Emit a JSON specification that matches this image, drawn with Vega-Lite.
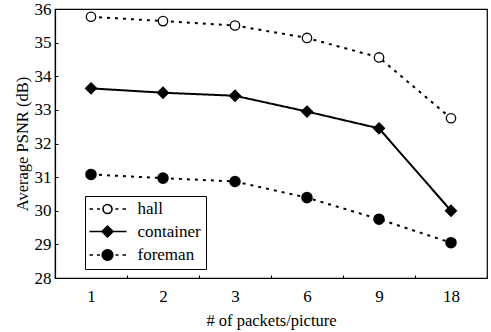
{
  "$schema": "https://vega.github.io/schema/vega-lite/v6.json",
  "autosize": "none",
  "width": 432,
  "height": 269,
  "padding": {"left": 55, "top": 9, "right": 4, "bottom": 54},
  "background": "white",
  "config": {
    "font": "Liberation Serif",
    "view": {"stroke": "black", "strokeWidth": 1.2},
    "axis": {
      "labelFont": "Liberation Serif",
      "titleFont": "Liberation Serif",
      "labelFontSize": 17,
      "titleFontSize": 16.5,
      "titleFontWeight": "normal",
      "labelColor": "black",
      "titleColor": "black",
      "domainColor": "black",
      "tickColor": "black",
      "grid": false
    },
    "legend": {
      "orient": "none",
      "legendX": 30,
      "legendY": 187,
      "strokeColor": "black",
      "fillColor": "white",
      "padding": 4.5,
      "symbolSize": 225,
      "symbolStrokeWidth": 1.6,
      "symbolStrokeColor": "black",
      "symbolOpacity": 1,
      "labelOffset": 31,
      "labelFontSize": 17,
      "labelFont": "Liberation Serif",
      "labelColor": "black",
      "rowPadding": 4.5
    }
  },
  "data": {
    "values": [
      {"packets": "1", "series": "hall", "psnr": 35.77},
      {"packets": "2", "series": "hall", "psnr": 35.64},
      {"packets": "3", "series": "hall", "psnr": 35.51},
      {"packets": "6", "series": "hall", "psnr": 35.14},
      {"packets": "9", "series": "hall", "psnr": 34.56},
      {"packets": "18", "series": "hall", "psnr": 32.75},
      {"packets": "1", "series": "container", "psnr": 33.64},
      {"packets": "2", "series": "container", "psnr": 33.51},
      {"packets": "3", "series": "container", "psnr": 33.42},
      {"packets": "6", "series": "container", "psnr": 32.95},
      {"packets": "9", "series": "container", "psnr": 32.45},
      {"packets": "18", "series": "container", "psnr": 30.0},
      {"packets": "1", "series": "foreman", "psnr": 31.08},
      {"packets": "2", "series": "foreman", "psnr": 30.97},
      {"packets": "3", "series": "foreman", "psnr": 30.87},
      {"packets": "6", "series": "foreman", "psnr": 30.39},
      {"packets": "9", "series": "foreman", "psnr": 29.75},
      {"packets": "18", "series": "foreman", "psnr": 29.05}
    ]
  },
  "encoding": {
    "x": {
      "field": "packets",
      "type": "ordinal",
      "sort": ["1", "2", "3", "6", "9", "18"],
      "scale": {"type": "band", "paddingInner": 0, "paddingOuter": 0},
      "axis": {
        "title": "# of packets/picture",
        "labelAngle": 0,
        "tickBand": "extent",
        "tickSize": -3,
        "labelPadding": 13,
        "titlePadding": 8,
        "domainWidth": 1.2
      }
    },
    "y": {
      "field": "psnr",
      "type": "quantitative",
      "scale": {"domain": [28, 36], "nice": false, "zero": false},
      "axis": {
        "title": "Average PSNR (dB)",
        "values": [28, 29, 30, 31, 32, 33, 34, 35, 36],
        "tickSize": -3,
        "labelPadding": 7,
        "titlePadding": 4,
        "domainWidth": 1.2
      }
    }
  },
  "resolve": {"scale": {"shape": "independent", "fill": "independent", "size": "independent", "stroke": "independent"}},
  "layer": [
    {
      "mark": {"type": "line", "color": "black", "strokeWidth": 2},
      "encoding": {
        "detail": {"field": "series", "type": "nominal"},
        "strokeDash": {
          "field": "series",
          "type": "nominal",
          "scale": {"range": [[1, 0], [3, 5], [3, 5]]},
          "legend": null
        }
      }
    },
    {
      "mark": {"type": "point", "filled": true, "stroke": "black", "strokeWidth": 1.3, "opacity": 1},
      "encoding": {
        "shape": {
          "field": "series",
          "type": "nominal",
          "scale": {"domain": ["hall", "container", "foreman"], "range": ["circle", "diamond", "circle"]},
          "legend": null
        },
        "fill": {
          "field": "series",
          "type": "nominal",
          "scale": {"range": ["black", "black", "white"]},
          "legend": null
        },
        "size": {
          "field": "series",
          "type": "nominal",
          "scale": {"range": [121, 88, 64]},
          "legend": null
        }
      }
    },
    {
      "mark": {"type": "point", "filled": true, "stroke": "black", "strokeWidth": 1.6, "opacity": 0},
      "encoding": {
        "shape": {
          "field": "series",
          "type": "nominal",
          "scale": {
            "domain": ["hall", "container", "foreman"],
            "range": [
              "M-1.133,0L-0.667,0M-0.133,0L0.267,0M2.333,0L2.733,0M3.267,0L3.733,0M1.867,0A0.6,0.6,0,1,1,0.667,0A0.6,0.6,0,1,1,1.867,0Z",
              "M-1.133,0L3.8,0M1.267,-0.73L2,0L1.267,0.73L0.533,0Z",
              "M-1.133,0L-0.667,0M-0.133,0L0.267,0M2.333,0L2.733,0M3.267,0L3.733,0M1.974,0A0.707,0.707,0,1,1,0.56,0A0.707,0.707,0,1,1,1.974,0Z"
            ]
          },
          "legend": {"title": null}
        },
        "fill": {
          "field": "series",
          "type": "nominal",
          "scale": {"domain": ["hall", "container", "foreman"], "range": ["white", "black", "black"]},
          "legend": {"title": null}
        },
        "stroke": {
          "field": "series",
          "type": "nominal",
          "scale": {"domain": ["hall", "container", "foreman"], "range": ["black", "black", "black"]},
          "legend": {"title": null}
        }
      }
    }
  ]
}
